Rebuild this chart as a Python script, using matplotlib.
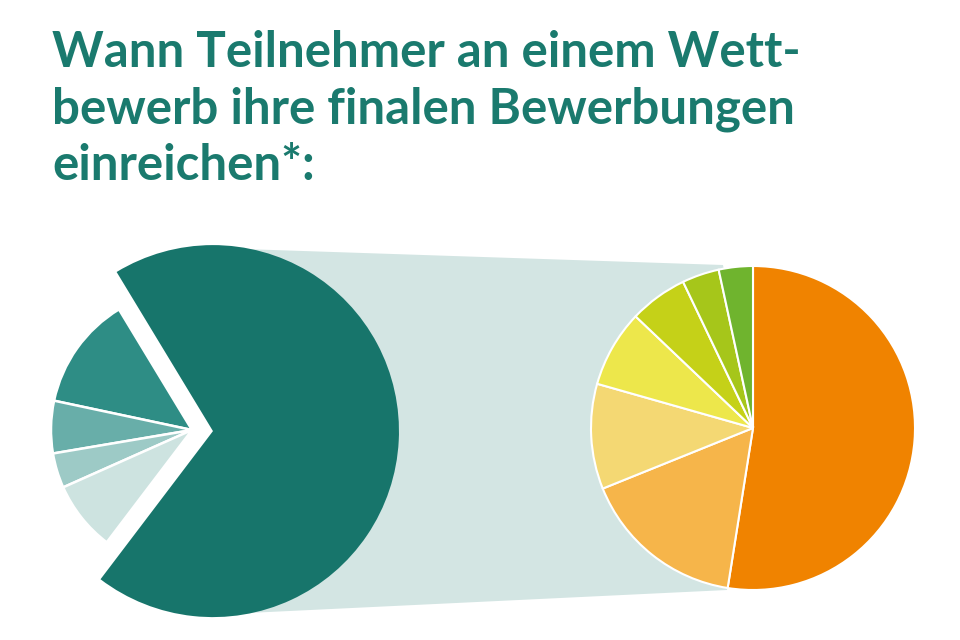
import matplotlib.pyplot as plt
from matplotlib.patches import Polygon

# Daten: linker Kreis (Gesamt) und rechter Kreis (Aufschluesselung des grossen Segments)
left_values = [69, 13, 6, 4, 8]
left_colors = ['#17756b', '#2e8d85', '#68aea9', '#9dcac6', '#cde3e0']

right_values = [52.5, 16.4, 10.5, 7.7, 5.8, 3.7, 3.4]
right_colors = ['#f08300', '#f6b54a', '#f4d873', '#ede74b', '#c5d118', '#a6c61a', '#6fb42e']

title = "Wann Teilnehmer an einem Wett-\nbewerb ihre finalen Bewerbungen\neinreichen*:"
teal = '#1a7a6e'

fig = plt.figure(figsize=(9.6, 6.4), dpi=100)
ax = fig.add_axes([0, 0, 1, 1])

# Verbindungsband (hinter den Kreisen)
band = Polygon([(213, 392), (723, 375), (753, 212), (727, 50), (227, 26)],
               closed=True, facecolor='#d3e5e3', edgecolor='none', zorder=1)
ax.add_patch(band)

# grosses Segment, explodiert, groesserer Radius (explode in Datenkoordinaten)
big_colors = [left_colors[0]] + ['none'] * 4
ax.pie(left_values, colors=big_colors, startangle=232.8, counterclock=True,
       radius=186, center=(192, 210), explode=[21, 0, 0, 0, 0],
       wedgeprops=dict(linewidth=0, zorder=2), frame=True)

# kleine Segmente, kleinerer Radius
small_colors = ['none'] + left_colors[1:]
wedges, _ = ax.pie(left_values, colors=small_colors, startangle=232.8, counterclock=True,
                   radius=141, center=(192, 210),
                   wedgeprops=dict(linewidth=1.8, edgecolor='white', zorder=2), frame=True)
wedges[0].set_edgecolor('none')

# rechter Kreis
ax.pie(right_values, colors=right_colors, startangle=90, counterclock=False,
       radius=162, center=(753, 212),
       wedgeprops=dict(linewidth=1.5, edgecolor='white', zorder=3), frame=True)

ax.set_xlim(0, 960)
ax.set_ylim(0, 640)
ax.set_aspect('equal')
ax.axis('off')

fig.text(52 / 960, 1 - 30 / 640, title, ha='left', va='top', fontsize=35.5,
         fontweight='bold', family='Lato', color=teal, linespacing=1.3)

fig.savefig('out.png', dpi=100, facecolor='white')
